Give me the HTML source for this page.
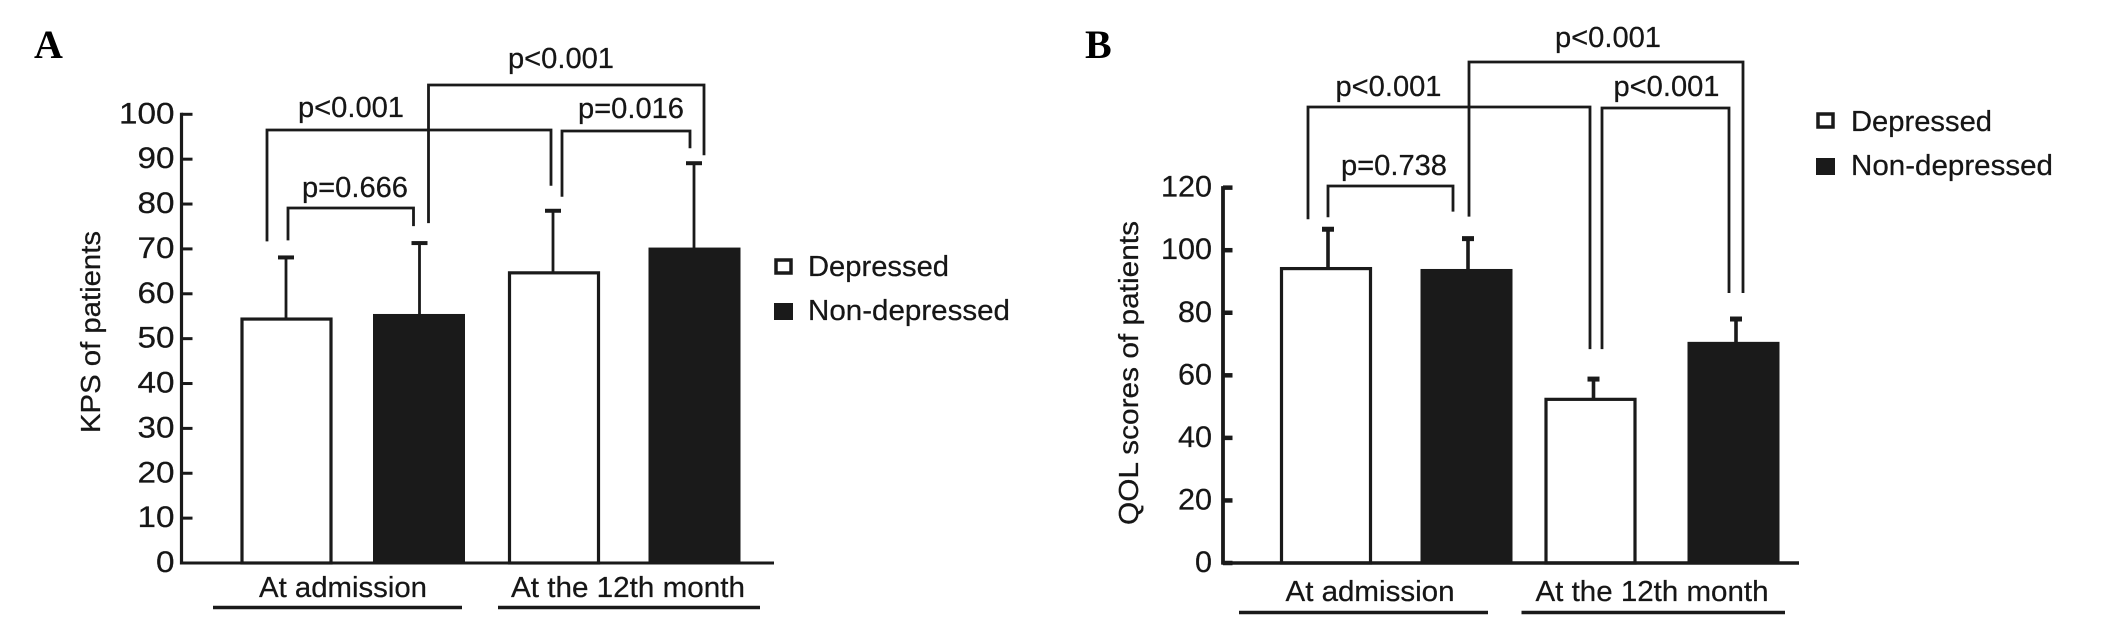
<!DOCTYPE html>
<html>
<head>
<meta charset="utf-8">
<title>KPS and QOL scores of patients</title>
<style>
html,body{margin:0;padding:0;background:#fff;}
svg{display:block;}
text{font-family:"Liberation Sans",Arial,sans-serif;fill:#161616;stroke:#161616;stroke-width:0.25px;}
.letter{font-family:"Liberation Serif",serif;font-weight:bold;font-size:40px;fill:#000;stroke:none;}
</style>
</head>
<body>
<svg id="figure" xmlns="http://www.w3.org/2000/svg" width="2126" height="625" viewBox="0 0 2126 625">
  <rect x="0" y="0" width="2126" height="625" fill="#fff"/>
  <text class="letter" x="34" y="58">A</text>
  <text class="letter" x="1085" y="58">B</text>
  <text transform="translate(100 433) rotate(-90)" font-size="28" textLength="202" lengthAdjust="spacingAndGlyphs">KPS of patients</text>
  <text transform="translate(1138 525) rotate(-90)" font-size="28" textLength="304" lengthAdjust="spacingAndGlyphs">QOL scores of patients</text>
  <g>
    <rect x="776" y="260" width="15" height="13" fill="#fff" stroke="#1a1a1a" stroke-width="3.5"/>
    <text x="808" y="276" font-size="29" textLength="141" lengthAdjust="spacingAndGlyphs">Depressed</text>
    <rect x="774" y="303" width="19" height="17" fill="#1a1a1a"/>
    <text x="808" y="320" font-size="29" textLength="202" lengthAdjust="spacingAndGlyphs">Non-depressed</text>
  </g>
  <g>
    <rect x="1818" y="114" width="15" height="13" fill="#fff" stroke="#1a1a1a" stroke-width="3.5"/>
    <text x="1851" y="131" font-size="29" textLength="141" lengthAdjust="spacingAndGlyphs">Depressed</text>
    <rect x="1816" y="158" width="19" height="17" fill="#1a1a1a"/>
    <text x="1851" y="175" font-size="29" textLength="202" lengthAdjust="spacingAndGlyphs">Non-depressed</text>
  </g>
</svg>
<script>
// Shared categories
const categories = ['At admission', 'At the 12th month'];

// Panel A: KPS of patients
const kpsTicks = [0, 10, 20, 30, 40, 50, 60, 70, 80, 90, 100];
const kpsDepressed = [54.7, 65];
const kpsNonDepressed = [55.5, 70.3];
const kpsDepressedErrorTop = [68.1, 78.5];
const kpsNonDepressedErrorTop = [71.3, 89.1];

// Panel B: QOL scores of patients
const qolTicks = [0, 20, 40, 60, 80, 100, 120];
const qolDepressed = [94.6, 52.8];
const qolNonDepressed = [94, 70.7];
const qolDepressedErrorTop = [106.7, 58.8];
const qolNonDepressedErrorTop = [103.7, 78];

const NS = 'http://www.w3.org/2000/svg';
const svg = document.getElementById('figure');
const INK = '#1a1a1a';

function mk(tag, attrs, parent) {
  const el = document.createElementNS(NS, tag);
  for (const k in attrs) el.setAttribute(k, attrs[k]);
  parent.appendChild(el);
  return el;
}

function seg(parent, x1, y1, x2, y2, w) {
  return mk('line', {x1: x1, y1: y1, x2: x2, y2: y2, stroke: INK, 'stroke-width': w}, parent);
}

function label(parent, str, x, y, size, width, anchor) {
  const el = mk('text', {x: x, y: y, 'font-size': size, 'text-anchor': anchor, textLength: width, lengthAdjust: 'spacingAndGlyphs'}, parent);
  el.textContent = str;
  return el;
}

function drawPanel(p) {
  const root = mk('g', {}, svg);
  
  

  const yScale = v => p.y0 - v * p.pxPerUnit;
  const barLeft = (g, s) => p.left + g * p.groupStep + s * p.pairStep + g * s * p.extra;
  const stemX = (g, s) => barLeft(g, s) + p.stemOffset[g * 2 + s];
  const valueOf = (g, s) => (s === 0 ? p.dep : p.non)[g];
  const errorOf = (g, s) => (s === 0 ? p.depErr : p.nonErr)[g];

  // y axis
  const yAxis = seg(root, p.axisX, yScale(p.ticks[p.ticks.length - 1]) - 1.5, p.axisX, p.y0 + 1.5, p.axisW);
  
  

  p.ticks.forEach(t => {
    const tick = seg(root, p.axisX, yScale(t), p.axisX + p.tickLen, yScale(t), p.tickW);
    
    
    const txt = label(root, String(t), p.axisX - p.tickGap, yScale(t) + 9, p.tickFont, String(t).length * p.digitW, 'end');
    
    
  });

  // bars + error bars
  categories.forEach((c, g) => {
    [0, 1].forEach(s => {
      const x = barLeft(g, s), top = yScale(valueOf(g, s));
      const errY = yScale(errorOf(g, s)), sx = stemX(g, s);
      const stem = seg(root, sx, errY, sx, top + 2, p.stemW);
      
      
      const cap = seg(root, sx - p.capW / 2, errY, sx + p.capW / 2, errY, p.capH);
      
      
      const bar = s === 0
        ? mk('rect', {x: x + 1.5, y: top + 1.5, width: p.barW - 3, height: p.y0 - top - 1.5, fill: '#fff', stroke: INK, 'stroke-width': 3.2}, root)
        : mk('rect', {x: x, y: top, width: p.barW, height: p.y0 - top, fill: INK}, root);
      
      
    });
    const lbl = label(root, c, p.catCenter[g], p.catBaseline, 29, p.catWidth[g], 'middle');
    
    
    const under = seg(root, p.catRule[g][0], p.catBaseline + p.ruleGap, p.catRule[g][1], p.catBaseline + p.ruleGap, 3.4);
    
    
  });

  // x axis
  const xAxis = seg(root, p.axisX - 1.5, p.y0, p.axisEnd, p.y0, p.xAxisW);
  
  

  // significance brackets: each leg hangs above an error-bar top
  p.brackets.forEach(b => {
    const lx = stemX(b.a[0], b.a[1]) + b.a[2];
    const rx = stemX(b.b[0], b.b[1]) + b.b[2];
    const ly = yScale(errorOf(b.a[0], b.a[1])) - b.a[3];
    const ry = yScale(errorOf(b.b[0], b.b[1])) - b.b[3];
    const path = mk('path', {d: 'M' + lx + ' ' + ly + 'V' + b.top + 'H' + rx + 'V' + ry, fill: 'none', stroke: INK, 'stroke-width': 2.8}, root);
    
    
    const t = label(root, b.text, b.tx, b.ty, 29, 106, 'middle');
    
    
  });
}

drawPanel({
  id: 'kps', ticks: kpsTicks, dep: kpsDepressed, non: kpsNonDepressed,
  depErr: kpsDepressedErrorTop, nonErr: kpsNonDepressedErrorTop,
  y0: 563, pxPerUnit: 4.487, axisX: 181.5, axisEnd: 774, axisW: 3.2, xAxisW: 3, tickLen: 11, tickW: 3, tickGap: 7,
  tickFont: 30, digitW: 18.5,
  left: 240.5, groupStep: 267.5, pairStep: 132.5, extra: 8, barW: 92,
  stemOffset: [45.5, 46.5, 45, 45.5], stemW: 2.8, capW: 16, capH: 4,
  catCenter: [343, 628], catWidth: [168, 234], catBaseline: 597, ruleGap: 10.5,
  catRule: [[213, 462], [498, 760]],
  brackets: [
    {a: [0, 0, -19, 16], b: [1, 0, -2, 25], top: 130, text: 'p<0.001', tx: 351, ty: 117},
    {a: [0, 0, 2, 17], b: [0, 1, -6, 17], top: 208, text: 'p=0.666', tx: 355, ty: 197},
    {a: [0, 1, 9, 20], b: [1, 1, 10, 8], top: 85, text: 'p<0.001', tx: 561, ty: 68},
    {a: [1, 0, 9, 14], b: [1, 1, -4, 15], top: 131, text: 'p=0.016', tx: 631, ty: 118}
  ]
});

drawPanel({
  id: 'qol', ticks: qolTicks, dep: qolDepressed, non: qolNonDepressed,
  depErr: qolDepressedErrorTop, nonErr: qolNonDepressedErrorTop,
  y0: 563, pxPerUnit: 3.128, axisX: 1223, axisEnd: 1799, axisW: 3.8, xAxisW: 3.6, tickLen: 9.5, tickW: 4.5, tickGap: 11,
  tickFont: 30, digitW: 17,
  left: 1280, groupStep: 264.5, pairStep: 140.5, extra: 2.5, barW: 92,
  stemOffset: [48, 47.5, 49, 48.5], stemW: 3.6, capW: 12, capH: 5,
  catCenter: [1370, 1652], catWidth: [169, 233], catBaseline: 601, ruleGap: 11.5,
  catRule: [[1239, 1488], [1521.5, 1785]],
  brackets: [
    {a: [0, 0, -20, 10], b: [1, 0, -3.5, 30], top: 107, text: 'p<0.001', tx: 1388.5, ty: 96},
    {a: [0, 0, 0, 12], b: [0, 1, -15, 27], top: 186, text: 'p=0.738', tx: 1394, ty: 175},
    {a: [0, 1, 1, 22], b: [1, 1, 7, 26], top: 62, text: 'p<0.001', tx: 1608, ty: 47},
    {a: [1, 0, 8.5, 30], b: [1, 1, -7, 26], top: 108, text: 'p<0.001', tx: 1666.5, ty: 96}
  ]
});
</script>
</body>
</html>
